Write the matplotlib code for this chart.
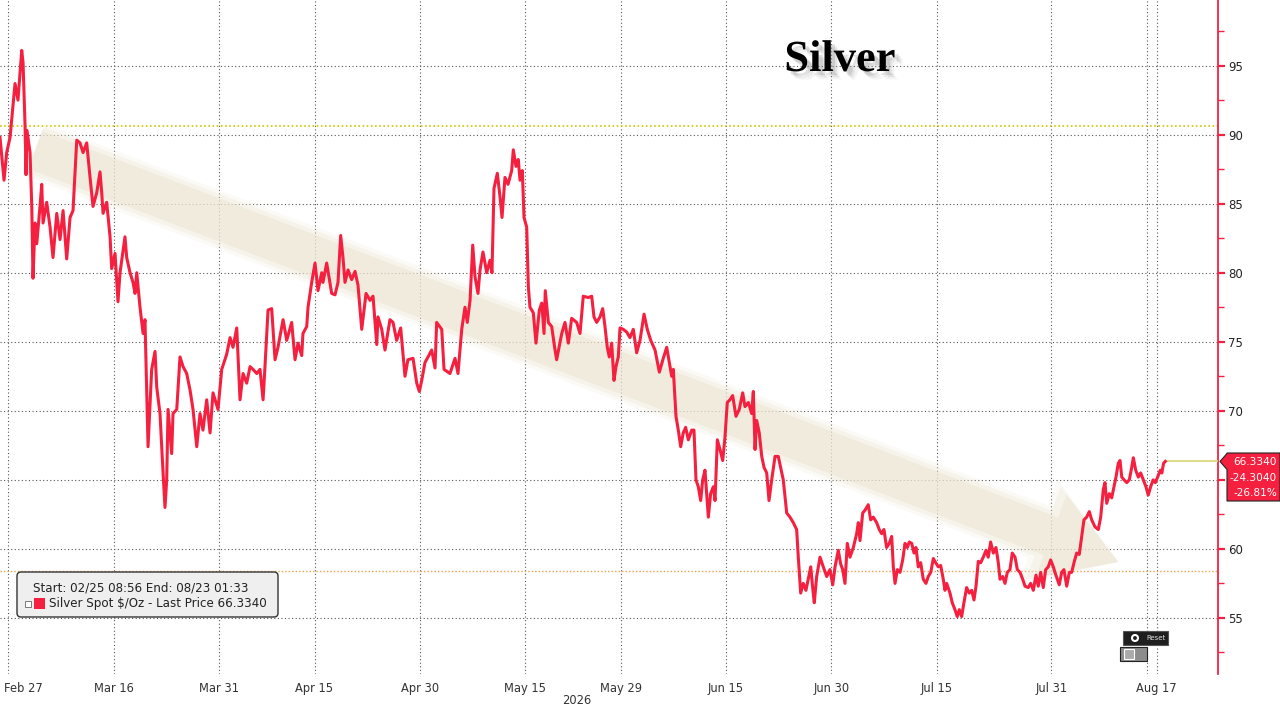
import numpy as np
import matplotlib
matplotlib.use("Agg")
import matplotlib.pyplot as plt
import matplotlib.patheffects as pe
import matplotlib.transforms as mtransforms
from matplotlib.patches import FancyBboxPatch, Rectangle, Polygon

# Silver spot, trading days counted from Feb 27 2026 (Good Friday closed)
days = [-0.87, -0.45, -0.17, 0.18, 0.70, 1.01, 1.40, 1.54, 1.75, 1.85, 1.95, 2.27, 2.45, 2.58,
        2.79, 2.97, 3.31, 3.49, 3.63, 4.01, 4.36, 4.67, 5.06, 5.40, 5.72, 6.10, 6.45, 6.76,
        7.15, 7.49, 7.81, 8.19, 8.54, 8.85, 9.24, 9.58, 9.76, 9.90, 10.28, 10.63, 10.80, 11.15,
        11.46, 11.67, 12.19, 12.37, 12.72, 13.03, 13.24, 13.42, 13.76, 14.08, 14.28, 14.46,
        14.60, 14.98, 15.33, 15.51, 15.85, 16.17, 16.37, 16.55, 16.69, 17.07, 17.21, 17.60,
        17.94, 18.26, 18.64, 18.99, 19.30, 19.69, 20.03, 20.34, 20.73, 21.08, 21.39, 21.91,
        22.30, 22.82, 23.17, 23.48, 23.87, 24.21, 24.53, 24.91, 25.26, 25.57, 25.96, 26.30,
        26.62, 26.82, 27.14, 27.52, 27.87, 28.18, 28.71, 29.09, 29.61, 29.96, 30.27, 30.66,
        30.79, 31.18, 31.32, 31.70, 32.05, 32.36, 32.75, 32.88, 33.27, 33.79, 34.14, 34.45,
        34.73, 34.97, 35.18, 35.50, 35.88, 36.23, 36.54, 36.93, 37.38, 37.80, 38.11, 38.50,
        38.63, 39.02, 39.36, 39.88, 40.20, 40.58, 41.00, 41.45, 41.76, 42.29, 42.68, 42.95,
        43.20, 43.54, 43.86, 44.24, 44.59, 44.76, 45.29, 45.53, 46.15, 46.68, 46.99, 47.38,
        47.72, 47.96, 48.25, 48.53, 48.77, 49.08, 49.29, 49.60, 49.99, 50.33, 50.54, 50.75,
        51.10, 51.38, 51.59, 51.90, 52.22, 52.60, 52.77, 53.05, 53.29, 53.47, 53.71, 53.89,
        54.17, 54.34, 54.51, 54.86, 55.14, 55.49, 55.74, 55.98, 56.11, 56.43, 56.78, 57.13,
        57.30, 57.83, 58.17, 58.52, 58.87, 59.39, 59.74, 60.08, 60.61, 60.96, 61.20, 61.48,
        61.83, 62.11, 62.35, 62.59, 62.80, 63.05, 63.29, 63.50, 63.74, 63.92, 64.26, 64.62,
        64.96, 65.31, 65.66, 66.01, 66.43, 66.77, 67.13, 67.58, 68.03, 68.44, 68.80, 69.07,
        69.32, 69.49, 69.77, 70.01, 70.26, 70.53, 70.78, 71.06, 71.41, 71.65, 71.86, 72.10,
        72.35, 72.56, 72.80, 72.98, 73.15, 73.39, 73.67, 73.85, 74.09, 74.37, 74.65, 74.89,
        75.13, 75.41, 75.69, 76.04, 76.38, 76.74, 76.98, 77.33, 77.68, 77.85, 78.03, 78.20,
        78.47, 78.73, 78.97, 79.25, 79.49, 79.77, 80.12, 80.46, 80.71, 80.98, 81.34, 81.68,
        82.03, 82.38, 82.55, 82.80, 83.07, 83.35, 83.59, 83.85, 84.05, 84.22, 84.47, 84.82,
        85.16, 85.52, 85.86, 86.15, 86.39, 86.73, 86.98, 87.19, 87.43, 87.67, 87.95, 88.30,
        88.65, 88.82, 89.00, 89.28, 89.52, 89.86, 90.11, 90.39, 90.74, 91.01, 91.26, 91.50,
        91.78, 92.06, 92.31, 92.48, 92.66, 92.90, 93.18, 93.46, 93.70, 93.94, 94.15, 94.40,
        94.64, 94.85, 95.09, 95.34, 95.61, 95.89, 96.13, 96.39, 96.66, 96.91, 97.18, 97.43,
        97.70, 97.88, 98.06, 98.40, 98.64, 98.92, 99.16, 99.37, 99.62, 99.86, 100.14, 100.42,
        100.67, 100.91, 101.12, 101.36, 101.61, 101.88, 102.17, 102.40, 102.65, 102.93, 103.21,
        103.45, 103.63, 103.91, 104.15, 104.39, 104.67, 104.91, 105.20, 105.44, 105.72, 106.00,
        106.24, 106.58, 106.83, 107.11, 107.39, 107.63, 107.88, 108.15, 108.40, 108.67, 108.92,
        109.20, 109.37, 109.62, 109.82, 110.07, 110.31, 110.60, 110.87, 111.12, 111.36, 111.64,
        111.91, 112.16, 112.40, 112.68, 112.96, 113.21, 113.55, 113.90, 114.15, 114.42, 114.60,
        114.78, 115.05, 115.30, 115.54, 115.75, 115.99, 116.17, 116.35, 116.59, 116.87, 117.14,
        117.39, 117.56, 117.81, 118.08, 118.33, 118.60, 118.88, 119.12, 119.37, 119.63, 119.86,
        120.10, 120.38, 120.54, 120.72, 120.90]
price = [89.8, 86.7, 88.7, 89.8, 93.7, 92.5, 96.1, 95.2, 90.6, 87.1, 90.3, 88.7, 84.8, 79.6,
         83.6, 82.1, 84.8, 86.4, 83.6, 85.1, 83.3, 81.1, 84.3, 82.4, 84.5, 81.0, 84.0, 84.5,
         89.6, 89.4, 88.7, 89.4, 86.9, 84.8, 85.8, 87.3, 85.8, 84.3, 85.1, 82.6, 80.3, 81.4,
         77.9, 80.0, 82.6, 81.1, 80.0, 79.3, 78.5, 80.0, 77.5, 75.6, 76.6, 71.3,
         67.4, 73.0, 74.3, 71.7, 69.8, 65.5, 63.0, 65.0, 70.1, 66.9, 69.8, 70.1,
         73.9, 73.2, 72.7, 71.5, 70.1, 67.4, 69.8, 68.6, 70.8, 68.4, 71.3, 70.1,
         73.0, 74.1, 75.3, 74.6, 76.0, 70.8, 72.7, 72.0, 73.2, 73.0, 72.7, 73.0,
         70.8, 73.2, 77.3, 77.4, 73.7, 74.6, 76.6, 75.1, 76.4, 73.7, 74.9, 74.0,
         75.6, 76.1, 77.5, 79.3, 80.7, 78.7, 80.0, 79.3, 80.7, 78.5, 78.4, 79.3,
         82.7, 81.1, 79.3, 80.2, 79.5, 80.1, 79.1, 75.9, 78.5, 78.0, 78.3, 74.8,
         76.8, 75.9, 74.4, 76.6, 76.4, 75.1, 76.0, 72.5, 73.7, 73.8, 72.0, 71.4,
         72.2, 73.5, 73.9, 74.4, 73.1, 76.4, 75.9, 73.0, 72.7, 73.8, 72.7, 75.9,
         77.5, 76.4, 78.0, 82.0, 79.7, 78.5, 80.2, 81.5, 80.0, 80.9, 80.0, 86.1,
         87.2, 85.5, 84.0, 86.9, 86.4, 87.4, 88.9, 87.7, 88.2, 86.7, 87.4, 84.0,
         83.3, 79.0, 77.5, 77.1, 74.9, 77.3, 77.8, 75.6, 78.7, 76.4, 76.1, 74.4,
         73.7, 75.6, 76.4, 74.9, 76.7, 76.4, 75.6, 78.3, 78.2, 78.3, 76.8, 76.4,
         76.8, 77.4, 76.1, 74.6, 73.9, 74.9, 72.2, 73.2, 73.9, 76.0, 75.9, 75.7,
         75.3, 75.9, 74.2, 75.1, 77.0, 75.9, 75.1, 74.4, 72.8, 73.8, 74.6, 73.5,
         72.5, 73.0, 69.6, 68.6, 67.4, 68.4, 68.8, 67.9, 68.6, 68.6, 65.0, 64.5,
         63.5, 65.0, 65.7, 64.0, 62.3, 64.0, 64.5, 63.5, 67.9, 67.2, 66.4, 68.1,
         70.6, 70.8, 71.1, 69.6, 70.1, 71.3, 70.3, 70.6, 69.8, 71.4, 67.2, 69.3,
         68.4, 66.7, 65.9, 65.5, 63.5, 65.0, 66.7, 66.7, 65.9, 65.0, 62.6, 62.3,
         61.9, 61.4, 59.4, 56.8, 57.5, 57.0, 57.8, 58.7, 57.2, 56.1, 58.0, 59.4,
         58.7, 58.0, 58.5, 57.4, 58.7, 59.9, 58.9, 58.5, 57.5, 60.4, 59.4, 60.1,
         61.1, 61.9, 60.6, 62.6, 62.8, 63.2, 62.1, 62.3, 61.9, 61.4, 61.1, 61.4,
         60.1, 60.4, 60.9, 58.7, 57.5, 58.5, 58.3, 59.2, 60.4, 60.1, 60.5, 60.4,
         59.7, 60.1, 58.7, 59.0, 57.8, 57.5, 58.0, 58.3, 59.3, 59.0, 58.7, 58.8,
         57.8, 57.0, 57.5, 56.8, 56.1, 55.6, 55.1, 55.6, 55.1, 56.1, 57.2, 56.8,
         57.0, 56.3, 57.3, 59.1, 59.0, 59.4, 59.9, 59.4, 60.5, 59.7, 60.1,
         59.0, 57.8, 58.0, 57.5, 58.3, 58.5, 59.7, 59.4, 58.5, 58.3, 57.8,
         57.3, 57.2, 57.5, 57.0, 58.1, 57.3, 58.3, 57.2, 58.5, 58.7, 59.2,
         58.7, 58.3, 57.8, 57.4, 58.3, 58.5, 57.3, 58.3, 58.3, 59.0, 59.7,
         59.6, 60.9, 62.1, 62.3, 62.7, 62.1, 61.6, 61.4, 62.3, 64.3, 64.8,
         63.3, 64.0, 63.7, 64.5, 65.2, 66.2, 66.4, 65.2, 65.0, 64.8, 65.0,
         65.9, 66.6, 65.7, 65.2, 65.5, 65.0, 64.5, 63.9, 64.5, 65.0, 64.8,
         65.2, 65.7, 65.5, 66.2, 66.334]

tick_dates = ["2026-02-27", "2026-03-16", "2026-03-31", "2026-04-15", "2026-04-30",
              "2026-05-15", "2026-05-29", "2026-06-15", "2026-06-30", "2026-07-15",
              "2026-07-31", "2026-08-17"]
tick_labels = ["Feb 27", "Mar 16", "Mar 31", "Apr 15", "Apr 30", "May 15", "May 29",
               "Jun 15", "Jun 30", "Jul 15", "Jul 31", "Aug 17"]
holidays = ["2026-04-03"]
y_ticks = [55, 60, 65, 70, 75, 80, 85, 90, 95]

start_price = 90.638
last_price = 66.334
net_change = -24.3040
pct_change = -26.81
support_level = 58.42

RED = "#f5203f"
W, H = 1280, 707

tick_pos = np.busday_count("2026-02-27", tick_dates, holidays=holidays)

fig = plt.figure(figsize=(W / 100, H / 100), dpi=100)
ax = fig.add_axes([0, 33 / H, 1218.3 / W, 674 / H])
ax.set_xlim(-0.87, 126.44)
ax.set_ylim(50.94, 99.75)

# grid
grid_kw = dict(color="#555555", lw=0.8, linestyle=(0, (1, 2.2)), zorder=1)
for yv in y_ticks:
    ax.axhline(yv, **grid_kw)
for xv in tick_pos:
    ax.axvline(xv, **grid_kw)
ax.axvline(tick_pos[-1] - 1, **grid_kw)

# reference levels
ax.axhline(start_price, color="#d2c400", lw=1.2, linestyle=(0, (1, 1.5)), zorder=2)
ax.axhline(support_level, color="#eba24a", lw=1.0, linestyle=(0, (1, 1.5)), zorder=2)

# big faded trend arrow, layered for a soft edge
for tw, hw, hl, a in [(40, 80, 62, 0.18), (35, 72, 58, 0.3), (29, 64, 52, 0.55)]:
    ax.annotate("", xy=(116.0, 59.05), xytext=(2.8, 88.9),
                arrowprops=dict(arrowstyle=f"simple,head_length={hl},head_width={hw},tail_width={tw}",
                                mutation_scale=1, fc="#ede6d2", ec="none", alpha=a,
                                shrinkA=0, shrinkB=0), zorder=2)

ax.plot(days, price, color=RED, lw=2.2, zorder=4, solid_joinstyle="round")
ax.plot([days[-1], 126.44], [last_price, last_price], color="#dcd66e", lw=1.2, zorder=3)

# axes styling
for s in ["top", "left", "bottom"]:
    ax.spines[s].set_visible(False)
ax.spines["right"].set_color(RED)
ax.spines["right"].set_linewidth(1.3)
ax.yaxis.tick_right()
ax.set_yticks(y_ticks)
# the 65 label sits under the last-price tag
ax.set_yticklabels(["" if v == 65 else str(v) for v in y_ticks])
ax.set_yticks(np.arange(52.5, 99, 2.5), minor=True)
ax.tick_params(axis="y", which="major", colors=RED, length=5, width=1.6, pad=2,
               labelcolor="#222222", labelsize=8.5)
ax.tick_params(axis="y", which="minor", colors=RED, length=4, width=1.0)
ax.set_xticks(tick_pos)
ax.set_xticklabels(tick_labels)
ax.tick_params(axis="x", length=0, pad=6, labelcolor="#333333", labelsize=8.3)
first = ax.get_xticklabels()[0]
first.set_ha("left")
first.set_transform(first.get_transform() + mtransforms.ScaledTranslation(-0.045, 0, fig.dpi_scale_trans))

fig.text(577 / W, 1 - 700 / H, "2026", ha="center", va="center", fontsize=8.3, color="#333333")

# title with soft shadow
fig.text(840 / W, 1 - 60 / H, "Silver", ha="center", va="center", fontsize=32,
         fontweight="bold", family="Liberation Serif", color="black",
         path_effects=[pe.SimplePatchShadow(offset=(6, -6), shadow_rgbFace="#aaaaaa", alpha=0.12),
                       pe.SimplePatchShadow(offset=(4.5, -4.5), shadow_rgbFace="#999999", alpha=0.18),
                       pe.SimplePatchShadow(offset=(3, -3), shadow_rgbFace="#888888", alpha=0.25),
                       pe.Normal()])

ident = mtransforms.IdentityTransform()


def px(x, y):
    return x, H - y


# legend box
fig.add_artist(FancyBboxPatch(px(17, 617), 261, 45, boxstyle="round,pad=0,rounding_size=4",
                              fc="#efefef", ec="#333333", lw=1.0, transform=ident))
fig.text(*px(33, 588), "Start: 02/25 08:56 End: 08/23 01:33", transform=ident,
         fontsize=8.6, color="#222222", va="center", ha="left")
fig.add_artist(Rectangle(px(25, 607), 6, 6, fc="white", ec="#777777", lw=0.7, transform=ident))
fig.add_artist(Rectangle(px(34, 609), 11, 11, fc=RED, ec="none", transform=ident))
fig.text(*px(49, 604), "Silver Spot $/Oz - Last Price 66.3340", transform=ident,
         fontsize=8.6, color="#222222", va="center", ha="left")

# last price tag
y_last = H - (618 - (last_price - 55) * 13.81)
tag = [(1220, y_last), (1227, y_last + 8), (1227, H - 453), (1280, H - 453),
       (1280, H - 501), (1227, H - 501), (1227, y_last - 8)]
fig.add_artist(Polygon(tag, closed=True, fc=RED, ec="#222222", lw=0.8, transform=ident))
for yy, txt in [(462, f"{last_price:.4f}"), (478, f"{net_change:.4f}"), (493, f"{pct_change:.2f}%")]:
    fig.text(*px(1277, yy), txt, transform=ident, fontsize=7.6, color="white",
             ha="right", va="center")

# chart widgets
fig.add_artist(Rectangle(px(1123, 645), 45, 14, fc="#1e1e1e", ec="#555555", lw=0.8, transform=ident))
fig.add_artist(plt.Circle(px(1135, 638), 3, fc="none", ec="white", lw=1.5, transform=ident))
fig.text(*px(1146, 638), "Reset", transform=ident, fontsize=5, color="#dddddd", va="center")
fig.add_artist(Rectangle(px(1120, 661), 27, 14, fc="#8c8c8c", ec="#222222", lw=0.8, transform=ident))
fig.add_artist(Rectangle(px(1124, 659), 10, 10, fc="#aaaaaa", ec="white", lw=0.8, transform=ident))

fig.savefig("out.png", dpi=100, facecolor="white")
